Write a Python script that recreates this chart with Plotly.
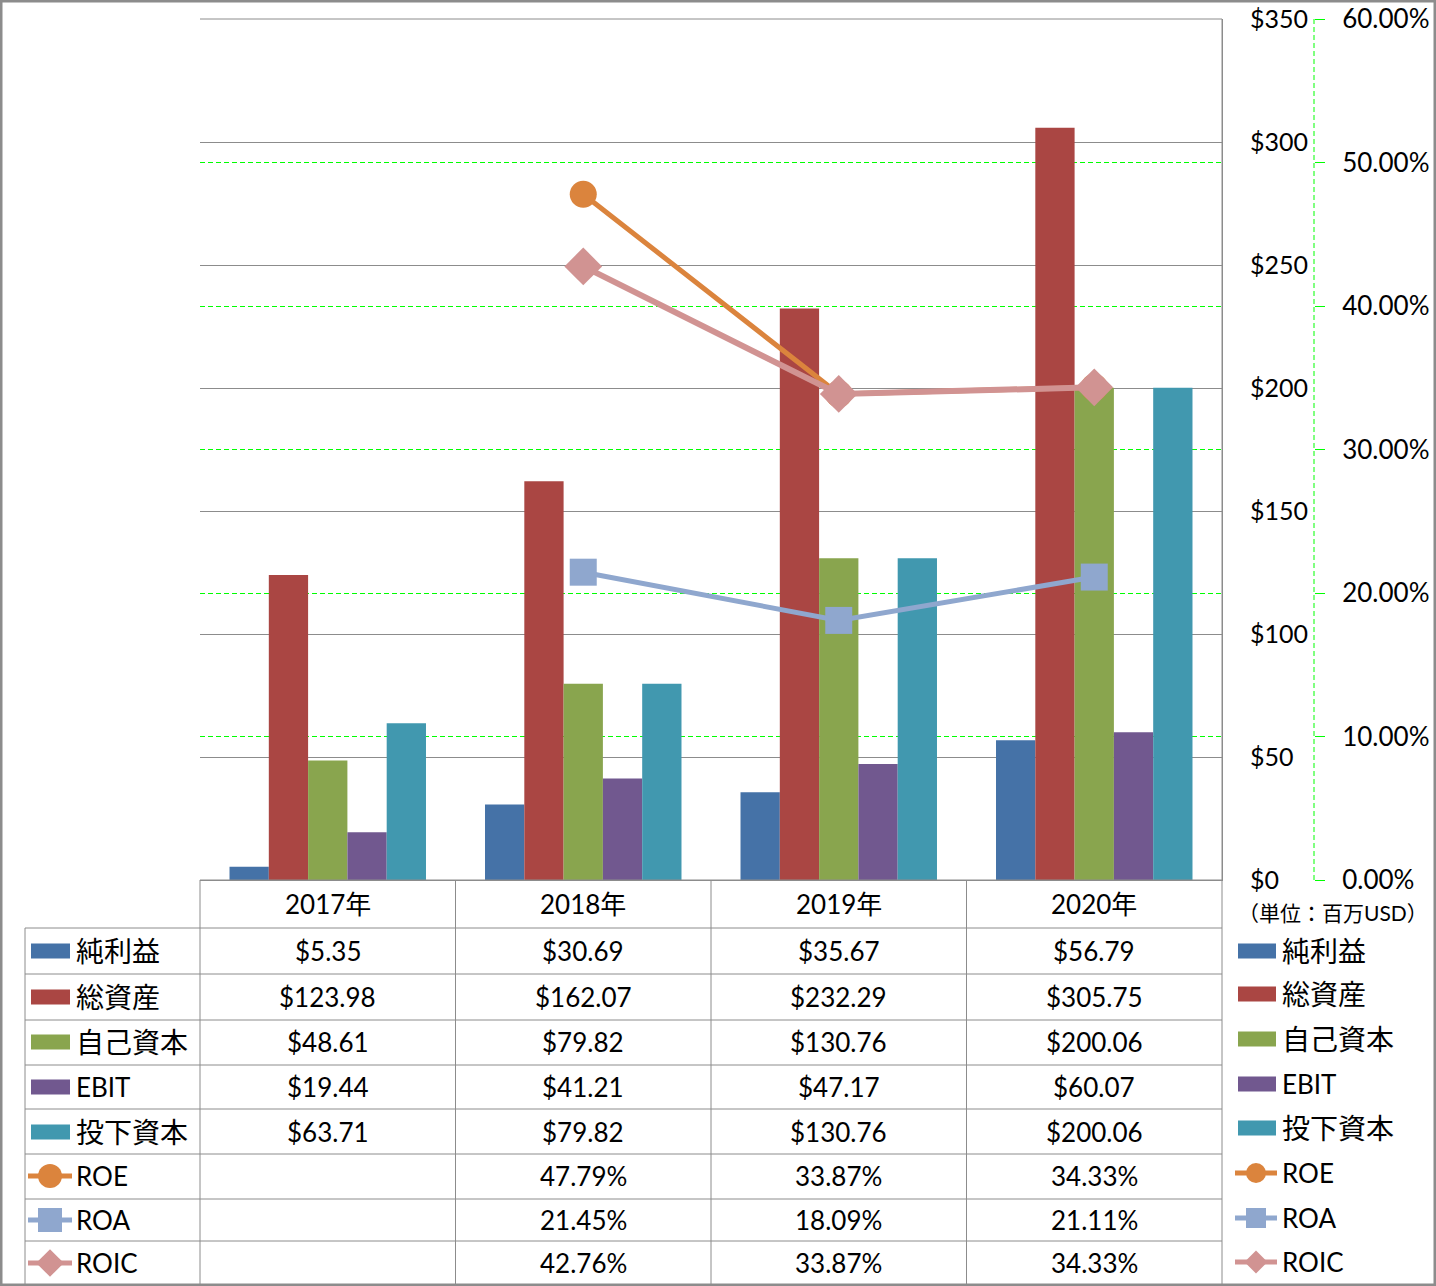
import plotly.graph_objects as go

# ---------------- data ----------------
years = ["2017年", "2018年", "2019年", "2020年"]
bar_names = ["純利益", "総資産", "自己資本", "EBIT", "投下資本"]
net_income = [5.35, 30.69, 35.67, 56.79]
total_assets = [123.98, 162.07, 232.29, 305.75]
equity = [48.61, 79.82, 130.76, 200.06]
ebit = [19.44, 41.21, 47.17, 60.07]
invested_capital = [63.71, 79.82, 130.76, 200.06]
line_names = ["ROE", "ROA", "ROIC"]
roe = [None, 0.4779, 0.3387, 0.3433]
roa = [None, 0.2145, 0.1809, 0.2111]
roic = [None, 0.4276, 0.3387, 0.3433]
dollar_ticks = [0, 50, 100, 150, 200, 250, 300, 350]
dollar_labels = ["$0", "$50", "$100", "$150", "$200", "$250", "$300", "$350"]
pct_ticks = [0.0, 0.1, 0.2, 0.3, 0.4, 0.5, 0.6]
unit_label = "（単位：百万USD）"

bar_series = [net_income, total_assets, equity, ebit, invested_capital]
line_series = [roe, roa, roic]

# ---------------- style ----------------
W, H = 1436, 1286
bar_colors = ["#4572A7", "#AA4643", "#89A54E", "#71588F", "#4198AF"]
line_colors = ["#DB843D", "#8FA7CE", "#D19392"]
line_widths = [5, 5, 6]
marker_symbols = ["circle", "square", "diamond"]
marker_sizes = [27, 27, 29]
GRAY = "#8C8C8C"
LIME = "#00FF00"
FONT = "Lato, 'Noto Sans CJK JP', sans-serif"
FS = 26

def px(x):
    return x / W

def py(y):
    return 1 - y / H

PL, PR, PT, PB = 200, 1222, 19, 880
AX2 = 1314

fig = go.Figure()

for name, vals, col in zip(bar_names, bar_series, bar_colors):
    fig.add_trace(go.Bar(x=years, y=vals, name=name, marker_color=col,
                         marker_line_width=0, showlegend=False))

for name, vals, col, lw, sym, ms in zip(line_names, line_series, line_colors,
                                         line_widths, marker_symbols, marker_sizes):
    fig.add_trace(go.Scatter(x=years, y=vals, name=name, yaxis="y2",
                             mode="lines+markers",
                             line=dict(color=col, width=lw),
                             marker=dict(symbol=sym, size=ms, color=col,
                                         line=dict(width=0)),
                             cliponaxis=False, showlegend=False))

shapes = []
annotations = []

def hline(x0, x1, y, color=GRAY, width=1, layer="above"):
    shapes.append(dict(type="line", xref="paper", yref="paper",
                       x0=px(x0), x1=px(x1), y0=py(y), y1=py(y),
                       line=dict(color=color, width=width), layer=layer))

def vline(x, y0, y1, color=GRAY, width=1, dash=None, layer="above"):
    ln = dict(color=color, width=width)
    if dash:
        ln["dash"] = dash
    shapes.append(dict(type="line", xref="paper", yref="paper",
                       x0=px(x), x1=px(x), y0=py(y0), y1=py(y1),
                       line=ln, layer=layer))

# top gray gridline over green
hline(PL, PR, PT)
# secondary axis dashed line
vline(AX2, PT, PB, color=LIME, width=1, dash="5px,3px")

# ---------------- table ----------------
row_lines = [928, 974, 1020, 1065, 1109, 1154, 1199, 1241]
row_centers = [951, 997, 1042, 1087, 1132, 1176, 1220, 1263]
col_edges = [PL, 455.5, 711, 966.5, PR]
TB = 1284

hline(PL, PR, PB)
for y in row_lines:
    hline(25, PR, y)
vline(25, 928, TB)
for x in col_edges:
    vline(x, PB if x != PR else PT, TB)

# header years
for yr in years:
    annotations.append(dict(x=yr, xref="x", y=py(904), yref="paper", text=yr,
                            showarrow=False, xanchor="center", yanchor="middle",
                            font=dict(size=FS, color="black", family=FONT)))

# values
for r, vals in enumerate(bar_series):
    for yr, v in zip(years, vals):
        annotations.append(dict(x=yr, xref="x", y=py(row_centers[r]), yref="paper",
                                text=f"${v:,.2f}", showarrow=False,
                                xanchor="center", yanchor="middle",
                                font=dict(size=FS, color="black", family=FONT)))
for k, vals in enumerate(line_series):
    r = 5 + k
    for yr, v in zip(years, vals):
        if v is None:
            continue
        annotations.append(dict(x=yr, xref="x", y=py(row_centers[r]), yref="paper",
                                text=f"{v*100:.2f}%", showarrow=False,
                                xanchor="center", yanchor="middle",
                                font=dict(size=FS, color="black", family=FONT)))

def is_cjk(s):
    return any(ord(c) > 0x2E80 for c in s)

def add_key(kind, idx, cx_left, cy, big):
    if kind == "bar":
        w = 39 if big else 38
        shapes.append(dict(type="rect", xref="paper", yref="paper",
                           x0=px(cx_left), x1=px(cx_left + w),
                           y0=py(cy - 7.5), y1=py(cy + 7.5),
                           fillcolor=bar_colors[idx], line=dict(width=0)))
    else:
        col = line_colors[idx]
        L = 44 if big else 42
        x0 = cx_left - 3
        x1 = x0 + L
        shapes.append(dict(type="line", xref="paper", yref="paper",
                           x0=px(x0), x1=px(x1), y0=py(cy), y1=py(cy),
                           line=dict(color=col, width=5)))
        mx = (x0 + x1) / 2
        s = 24 if big else 20
        h = s / 2
        if idx == 0:
            shapes.append(dict(type="circle", xref="paper", yref="paper",
                               x0=px(mx - h), x1=px(mx + h), y0=py(cy - h), y1=py(cy + h),
                               fillcolor=col, line=dict(width=0)))
        elif idx == 1:
            shapes.append(dict(type="rect", xref="paper", yref="paper",
                               x0=px(mx - h), x1=px(mx + h), y0=py(cy - h), y1=py(cy + h),
                               fillcolor=col, line=dict(width=0)))
        else:
            d = h * 1.15
            path = (f"M{px(mx - d)},{py(cy)} L{px(mx)},{py(cy - d)} "
                    f"L{px(mx + d)},{py(cy)} L{px(mx)},{py(cy + d)} Z")
            shapes.append(dict(type="path", xref="paper", yref="paper", path=path,
                               fillcolor=col, line=dict(width=0)))

all_names = bar_names + line_names
legend_centers = [951, 994, 1039, 1084, 1128, 1173, 1218, 1262]
for i, nm in enumerate(all_names):
    kind = "bar" if i < 5 else "line"
    idx = i if i < 5 else i - 5
    fsz = 28 if is_cjk(nm) else FS
    add_key(kind, idx, 31, row_centers[i], True)
    annotations.append(dict(x=px(74), xref="paper", y=py(row_centers[i]), yref="paper",
                            text=nm, showarrow=False, xanchor="left", yanchor="middle",
                            font=dict(size=fsz, color="black", family=FONT)))
    add_key(kind, idx, 1238, legend_centers[i], False)
    annotations.append(dict(x=px(1280), xref="paper", y=py(legend_centers[i]), yref="paper",
                            text=nm, showarrow=False, xanchor="left", yanchor="middle",
                            font=dict(size=fsz, color="black", family=FONT)))

annotations.append(dict(x=px(1333), xref="paper", y=py(912), yref="paper",
                        text=unit_label, showarrow=False, xanchor="center",
                        yanchor="middle", borderpad=0,
                        font=dict(size=21, color="black", family=FONT)))

# outer frame
shapes.append(dict(type="rect", xref="paper", yref="paper",
                   x0=px(1.25), x1=px(1434.75), y0=py(1.25), y1=py(1284.75),
                   line=dict(color=GRAY, width=2.5), fillcolor="rgba(0,0,0,0)"))

fig.update_layout(
    width=W, height=H, autosize=False,
    margin=dict(l=0, r=0, t=0, b=0, pad=0, autoexpand=False),
    paper_bgcolor="white", plot_bgcolor="white",
    barmode="group", bargap=0.231, bargroupgap=0,
    font=dict(family=FONT, size=FS, color="black"),
    showlegend=False,
    xaxis=dict(domain=[px(PL), px(PR)], type="category", categoryorder="array",
               categoryarray=years, range=[-0.5, 3.5], showticklabels=False,
               ticks="", showgrid=False, showline=True, linecolor=GRAY,
               linewidth=1, zeroline=False, fixedrange=True, automargin=False),
    yaxis=dict(domain=[py(PB), py(PT)], range=[0, 350], side="right",
               tickmode="array", tickvals=dollar_ticks, ticktext=dollar_labels,
               showgrid=True, gridcolor=GRAY, gridwidth=1,
               showline=True, linecolor=GRAY, linewidth=1, ticks="",
               ticklabelstandoff=22, zeroline=False, automargin=False,
               tickfont=dict(size=25, color="black", family=FONT), fixedrange=True),
    yaxis2=dict(overlaying="y", side="right", anchor="free", position=px(AX2),
                range=[0, 0.6], tickmode="array", tickvals=pct_ticks, tickformat=".2%",
                showgrid=True, gridcolor=LIME, gridwidth=1, griddash="5px,3px",
                ticks="outside", ticklen=10, tickcolor=LIME, tickwidth=1,
                showline=False, zeroline=False, ticklabelstandoff=12, automargin=False,
                tickfont=dict(size=FS, color="black", family=FONT), fixedrange=True),
    shapes=shapes,
    annotations=annotations,
)

fig.write_html("out.html")
